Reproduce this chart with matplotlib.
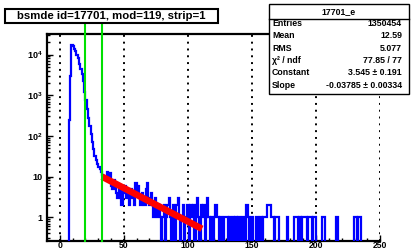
import matplotlib
matplotlib.use('Agg')
import matplotlib.pyplot as plt
import numpy as np
from matplotlib.patches import Rectangle
from matplotlib.lines import Line2D

# ---------------- data ----------------
bin_start = 0          # lower edge of first bin, bins of width 1
counts_head = [0, 0, 0, 0, 0, 0, 0, 250, 3000, 17000, 16500, 14000, 12000, 10000,
               8000, 6000, 4500, 3300, 2200, 1200, 750, 450, 280, 175, 110, 70,
               48, 32, 26, 20, 17, 15, 13]                      # bins 0..32
counts_tail = [11, 10, 9, 10, 13, 9, 12, 6, 5, 8, 7, 4, 3, 6, 5, 2, 5,   # 33..49
               4, 6, 3, 4, 2, 5, 3, 4, 2, 7, 4, 6, 3, 2, 4, 3, 2, 5, 7, 3,  # 50..69
               2, 4, 2, 1, 3, 2, 1, 2, 1, 0, 1, 2, 0, 1, 2, 3, 1, 0, 2, 1,  # 70..89
               0, 2, 3, 1, 0, 1, 2, 0, 1, 2, 2, 0, 2, 1, 2, 0, 2, 3, 1, 0,  # 90..109
               2, 1, 2, 0, 1, 3, 1, 0, 1, 0, 1, 2, 2, 1, 0, 1, 1, 0, 1, 1,  # 110..129
               1, 0, 1, 1, 0]                                             # 130..134
counts_far = [1, 0, 1, 0, 1, 1, 0, 1, 1, 0,      # 135..144
              2, 2, 1, 0, 1, 1, 0, 0, 1, 1,      # 145..154
              0, 1, 1, 0, 1, 1, 1, 2, 2, 2,      # 155..164
              1, 1, 0, 1, 1, 1, 0, 0, 0, 0,      # 165..174
              0, 0, 1, 0, 0, 0, 0, 0, 1, 1,      # 175..184
              1, 0, 1, 0, 1, 1, 1, 1, 0, 1,      # 185..194
              1, 1, 0, 1, 1, 0, 0, 0, 0, 0,      # 195..204
              1, 1, 0, 0, 0, 0, 0, 0, 0, 0,      # 205..214
              0, 1, 0, 0, 0, 0, 0, 0, 0, 0,      # 215..224
              0, 0, 0, 0, 0, 1, 1, 0, 1, 1,      # 225..234
              0, 0, 0, 0, 0, 0, 0, 0, 0, 0,      # 235..244
              0, 0, 0, 0, 0]                     # 245..249
green_lines_x = [20, 33]
fit_constant = 3.545
fit_slope = -0.03785
fit_range = [33, 111]
title_text = "bsmde id=17701, mod=119, strip=1"
stats_title = "17701_e"
stats_names = ["Entries", "Mean", "RMS", "\u03c7\u00b2 / ndf", "Constant", "Slope"]
stats_values = ["1350454", "12.59", "5.077", "77.85 / 77",
                "3.545 \u00b1 0.191", "-0.03785 \u00b1 0.00334"]
xlim = (-10, 250)
ylim = (0.26, 3.2e4)
xticks = [0, 50, 100, 150, 200, 250]
yticks = [1, 10, 100, 1000, 10000]
ytick_labels = ["1", "10", "10$^{2}$", "10$^{3}$", "10$^{4}$"]

# ---------------- style ----------------
FONT = "Liberation Sans"
plt.rcParams['font.family'] = [FONT, 'DejaVu Sans']
plt.rcParams['font.weight'] = 'bold'
plt.rcParams['mathtext.fontset'] = 'custom'
plt.rcParams['mathtext.rm'] = FONT + ':bold'
plt.rcParams['mathtext.it'] = FONT + ':bold'
plt.rcParams['mathtext.bf'] = FONT + ':bold'

W, H = 412, 249
fig = plt.figure(figsize=(W / 100, H / 100), dpi=100)

def fx(px):
    return px / W

def fy(py):
    return 1 - py / H

ax_l, ax_r, ax_t, ax_b = 47, 380, 34, 241
ax = fig.add_axes([fx(ax_l), fy(ax_b), (ax_r - ax_l) / W, (ax_b - ax_t) / H])
ax.set_yscale('log')
ax.set_xlim(*xlim)
ax.set_ylim(*ylim)

counts = np.array(counts_head + counts_tail + counts_far, dtype=float)
edges = np.arange(bin_start, bin_start + len(counts) + 1)
plot_vals = np.where(counts > 0, counts, 1e-3)
ax.stairs(plot_vals, edges, color='blue', lw=1.6, baseline=None, zorder=3)

xf = np.linspace(fit_range[0], fit_range[1], 200)
ax.plot(xf, np.exp(fit_constant + fit_slope * xf), color='red', lw=4.8,
        solid_capstyle='butt', zorder=4)

for gx in green_lines_x:
    ax.plot([gx, gx], [ylim[0], 6e4], color='#00e000', lw=1.5, clip_on=False, zorder=5)

ax.set_xticks(xticks)
ax.set_xticklabels([str(t) for t in xticks], fontsize=6.2, fontweight='bold')
ax.set_yticks(yticks)
ax.set_yticklabels(ytick_labels, fontsize=6.5, fontweight='bold')
ax.xaxis.set_minor_locator(matplotlib.ticker.MultipleLocator(10))
ax.yaxis.set_minor_locator(matplotlib.ticker.LogLocator(base=10, subs=np.arange(2, 10)))
ax.yaxis.set_minor_formatter(matplotlib.ticker.NullFormatter())
ax.tick_params(axis='both', which='major', direction='in', length=4, width=1,
               top=False, right=False)
ax.tick_params(axis='both', which='minor', direction='in', length=2, width=1,
               top=False, right=False)
ax.tick_params(axis='x', pad=0.3)
ax.tick_params(axis='y', pad=3)
ax.grid(axis='x', which='major', color='black', linestyle=(0, (1, 2.5)), lw=1.4)
for s in ['left', 'bottom', 'top']:
    ax.spines[s].set_linewidth(1.6)
ax.spines['right'].set_visible(False)

# ---------------- title box ----------------
tb_l, tb_r, tb_t, tb_b = 5, 218, 9, 23
fig.add_artist(Rectangle((fx(tb_l), fy(tb_b)), (tb_r - tb_l) / W, (tb_b - tb_t) / H,
                         transform=fig.transFigure, facecolor='white', edgecolor='black',
                         lw=1.5, zorder=10))
fig.text(fx((tb_l + tb_r) / 2), fy((tb_t + tb_b) / 2), title_text, ha='center',
         va='center', fontsize=8.2, fontweight='bold', zorder=11)

# ---------------- stats box ----------------
sb_l, sb_r, sb_t, sb_b = 269, 409, 4, 94
sep_y = 19
fig.add_artist(Rectangle((fx(sb_l), fy(sb_b)), (sb_r - sb_l) / W, (sb_b - sb_t) / H,
                         transform=fig.transFigure, facecolor='white', edgecolor='none',
                         zorder=10))
row_y0, row_dy = 23.5, 12.3
for i, (nm, val) in enumerate(zip(stats_names, stats_values)):
    yy = row_y0 + i * row_dy
    fig.text(fx(272), fy(yy), nm, ha='left', va='center', fontsize=6.3,
             fontweight='bold', zorder=11)
    fig.text(fx(402), fy(yy), val, ha='right', va='center', fontsize=6.3,
             fontweight='bold', zorder=11)
fig.add_artist(Rectangle((fx(sb_l), fy(sep_y)), (sb_r - sb_l) / W, (sep_y - sb_t) / H,
                         transform=fig.transFigure, facecolor='white', edgecolor='none',
                         zorder=12))
fig.add_artist(Line2D([fx(sb_l), fx(sb_r)], [fy(sep_y), fy(sep_y)],
                      transform=fig.transFigure, color='black', lw=1.0, zorder=13))
fig.text(fx((sb_l + sb_r) / 2), fy(11.5), stats_title, ha='center', va='center',
         fontsize=6.3, fontweight='bold', zorder=13)
fig.add_artist(Rectangle((fx(sb_l), fy(sb_b)), (sb_r - sb_l) / W, (sb_b - sb_t) / H,
                         transform=fig.transFigure, facecolor='none', edgecolor='black',
                         lw=1.0, zorder=13))

fig.savefig('out.png', dpi=100)
